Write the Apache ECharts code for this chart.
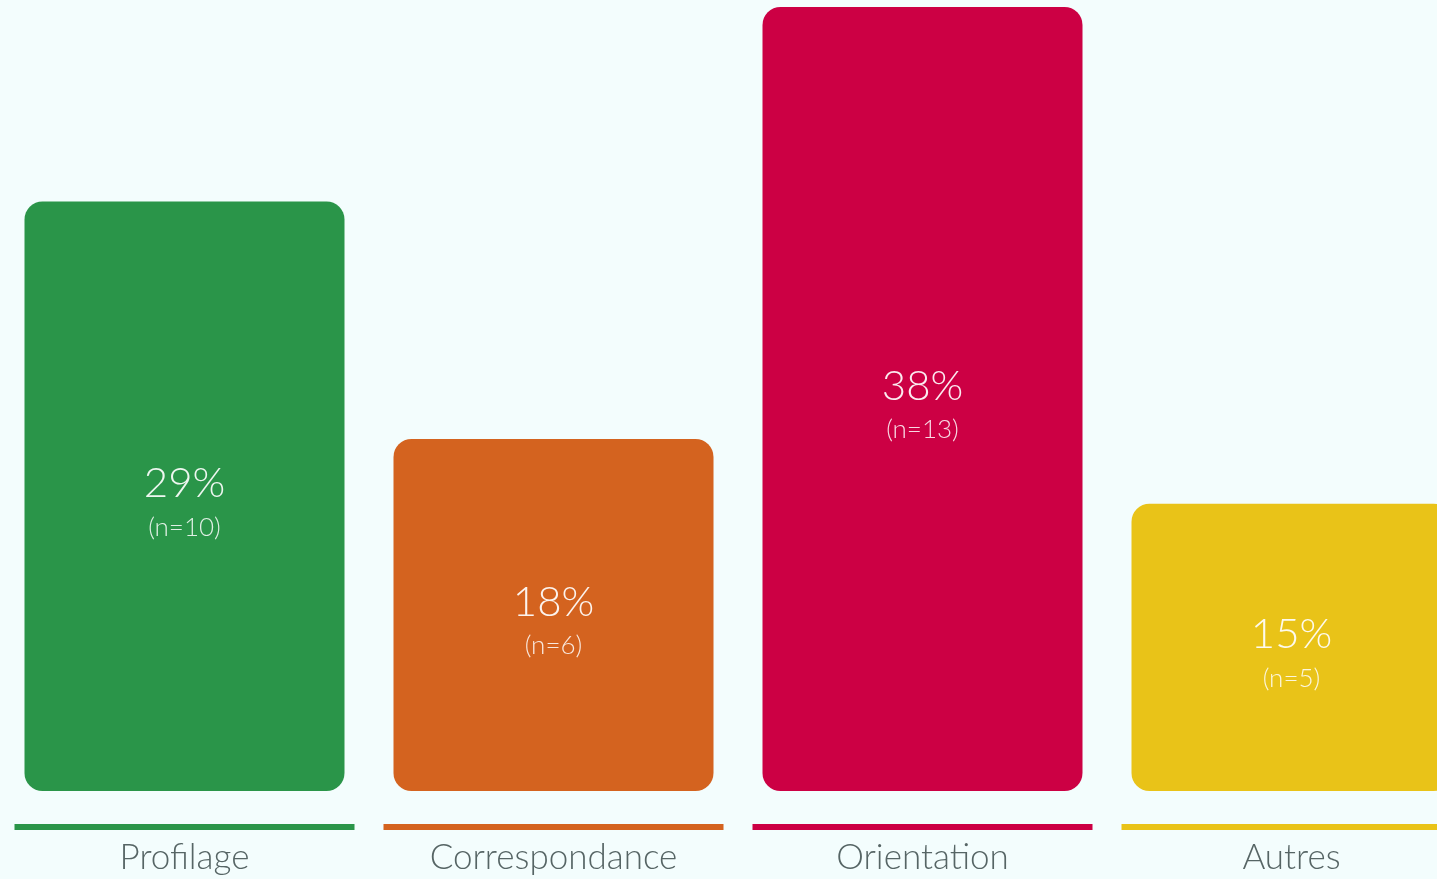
<!DOCTYPE html>
<html>
<head>
<meta charset="utf-8">
<script src="https://cdn.jsdelivr.net/npm/echarts@6/dist/echarts.min.js"></script>
<style>
  html, body { margin: 0; padding: 0; background: #f3fdfd; overflow: hidden; }
  /* le graphique déborde à droite, comme l'original */
  #chart { width: 1476px; height: 879px; }
</style>
</head>
<body>
<div id="chart"></div>
<script>
  // données
  var categories = ['Profilage', 'Correspondance', 'Orientation', 'Autres']
  var percents = [29, 18, 38, 15]
  var counts = [10, 6, 13, 5]
  var colors = ['#2a9549', '#d4631f', '#cc0044', '#e9c318']

  var font = 'Lato'

  var myChart = echarts.init(document.getElementById('chart'))

  var barData = percents.map(function (v, i) {
    return { value: v, itemStyle: { color: colors[i] } }
  })
  // petits traits de couleur sous chaque catégorie
  var lineData = categories.map(function (c, i) {
    return { value: 1, itemStyle: { color: colors[i] } }
  })

  myChart.setOption({
    backgroundColor: '#f3fdfd',
    animation: false,
    grid: [
      { left: 0, right: 0, top: 7, height: 784 },
      { left: 0, right: 0, top: 824, height: 6 }
    ],
    xAxis: [
      {
        type: 'category', gridIndex: 0, data: categories,
        axisLine: { show: false }, axisTick: { show: false }, axisLabel: { show: false }
      },
      {
        type: 'category', gridIndex: 1, data: categories,
        axisLine: { show: false }, axisTick: { show: false },
        axisLabel: {
          margin: 10,
          color: '#566565',
          fontFamily: font,
          fontWeight: 300,
          fontSize: 35
        }
      }
    ],
    yAxis: [
      { type: 'value', gridIndex: 0, min: 1.7, max: 38, show: false },
      { type: 'value', gridIndex: 1, min: 0, max: 1, show: false }
    ],
    series: [
      {
        type: 'bar',
        xAxisIndex: 0, yAxisIndex: 0,
        barWidth: 320,
        data: barData,
        itemStyle: { borderRadius: 18 },
        label: {
          show: true,
          position: 'inside',
          offset: [0, 8],
          formatter: function (p) {
            return '{p|' + p.value + '%}\n{n|(n=' + counts[p.dataIndex] + ')}'
          },
          rich: {
            p: { fontFamily: font, fontWeight: 300, fontSize: 42, color: 'rgba(255,255,255,0.92)', lineHeight: 46, align: 'center' },
            n: { fontFamily: font, fontWeight: 300, fontSize: 26, color: 'rgba(255,255,255,0.85)', lineHeight: 42, align: 'center' }
          }
        }
      },
      {
        type: 'bar',
        xAxisIndex: 1, yAxisIndex: 1,
        barWidth: 340,
        data: lineData,
        silent: true
      }
    ]
  })
</script>
</body>
</html>
